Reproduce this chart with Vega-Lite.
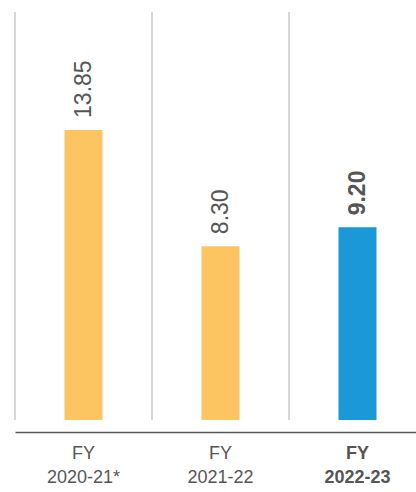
{
  "$schema": "https://vega.github.io/schema/vega-lite/v6.json",
  "autosize": "none",
  "width": 401,
  "height": 420,
  "padding": {"left": 15, "top": 12, "right": 0, "bottom": 60},
  "config": {"view": {"stroke": null}, "font": "Liberation Sans"},
  "data": {"values": [
    {"cat": "FY 2020-21*", "value": 13.85, "current": false},
    {"cat": "FY 2021-22", "value": 8.30, "current": false},
    {"cat": "FY 2022-23", "value": 9.20, "current": true}
  ]},
  "encoding": {
    "x": {"field": "cat", "type": "nominal", "sort": null,
      "scale": {"range": [0, 411], "paddingInner": 0, "paddingOuter": 0},
      "axis": {"title": null, "labelAngle": 0, "ticks": false, "grid": false,
        "labelExpr": "split(datum.label, ' ')",
        "labelFontSize": 18, "labelLineHeight": 24, "labelColor": "#555555",
        "labelFontWeight": {"condition": {"test": "datum.value === 'FY 2022-23'", "value": "bold"}, "value": "normal"},
        "labelPadding": 12, "domainColor": "#555555", "domainWidth": 1.5}},
    "y": {"field": "value", "type": "quantitative",
      "scale": {"domain": [-0.573, 19.48], "nice": false, "zero": false},
      "axis": null}
  },
  "layer": [
    {
      "mark": {"type": "rule", "color": "#bdbdbd", "strokeWidth": 1.2},
      "encoding": {
        "x": {"field": "cat", "type": "nominal", "sort": null, "bandPosition": 0},
        "y": {"datum": 19.48},
        "y2": {"datum": 0}
      }
    },
    {
      "mark": {"type": "bar", "size": 38},
      "encoding": {
        "y2": {"datum": 0},
        "color": {"field": "current", "type": "nominal",
          "scale": {"domain": [false, true], "range": ["#FCC562", "#1B98D6"]}, "legend": null}
      }
    },
    {
      "transform": [{"filter": "!datum.current"}],
      "mark": {"type": "text", "angle": 270, "align": "left", "baseline": "middle", "dx": 12, "fontSize": 23, "color": "#555555"},
      "encoding": {
        "text": {"field": "value", "type": "quantitative", "format": ".2f"}
      }
    },
    {
      "transform": [{"filter": "datum.current"}],
      "mark": {"type": "text", "angle": 270, "align": "left", "baseline": "middle", "dx": 12, "fontSize": 23, "fontWeight": "bold", "color": "#555555"},
      "encoding": {
        "text": {"field": "value", "type": "quantitative", "format": ".2f"}
      }
    }
  ]
}
